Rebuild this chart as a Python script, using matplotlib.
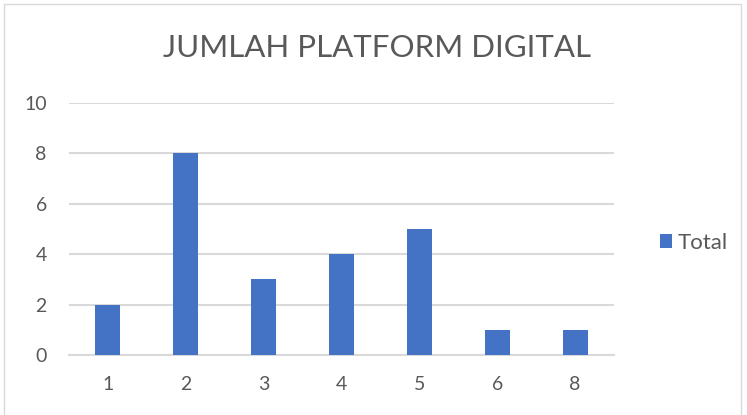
import matplotlib
matplotlib.use("Agg")
import matplotlib.pyplot as plt
from matplotlib.patches import Rectangle

categories = ["1", "2", "3", "4", "5", "6", "8"]
totals = [2, 8, 3, 4, 5, 1, 1]
yticks = [0, 2, 4, 6, 8, 10]

bar_color = "#4472C4"
text_color = "#595959"
grid_color = "#D9D9D9"

plt.rcParams["font.family"] = ["Lato", "DejaVu Sans"]

fig = plt.figure(figsize=(7.47, 4.15), dpi=100)
fig.patch.set_facecolor("white")

# chart frame
fig.add_artist(Rectangle((4 / 747, -0.01), 737 / 747, 1 - 4 / 415 + 0.01,
                         transform=fig.transFigure, fill=False,
                         edgecolor="#D9D9D9", linewidth=1.0))

ax = fig.add_axes([69 / 747, 1 - 355 / 415, 545 / 747, 252 / 415])
x = range(len(categories))
ax.bar(x, totals, width=0.32, color=bar_color, label="Total", zorder=3)
ax.set_xlim(-0.5, len(categories) - 0.5)
ax.set_ylim(0, 10)
ax.set_yticks(yticks)
ax.set_xticks(list(x))
ax.set_xticklabels(categories)
ax.yaxis.grid(True, color=grid_color, linewidth=1.5, zorder=0)
ax.set_axisbelow(True)
for s in ["top", "right", "left"]:
    ax.spines[s].set_visible(False)
ax.spines["bottom"].set_color(grid_color)
ax.spines["bottom"].set_linewidth(1.5)
ax.tick_params(axis="both", length=0, labelsize=14, colors=text_color)
ax.tick_params(axis="y", pad=16)
ax.tick_params(axis="x", pad=15)

fig.text(377 / 747, 1 - 48 / 415, "JUMLAH PLATFORM DIGITAL", ha="center",
         va="center", fontsize=22.5, color=text_color)

leg = fig.legend(loc="center left", bbox_to_anchor=(640 / 747, 1 - 243 / 415),
                 frameon=False, fontsize=16, handlelength=0.55, handleheight=0.55,
                 handletextpad=0.25, labelcolor=text_color)

fig.savefig("out.png", dpi=100)
